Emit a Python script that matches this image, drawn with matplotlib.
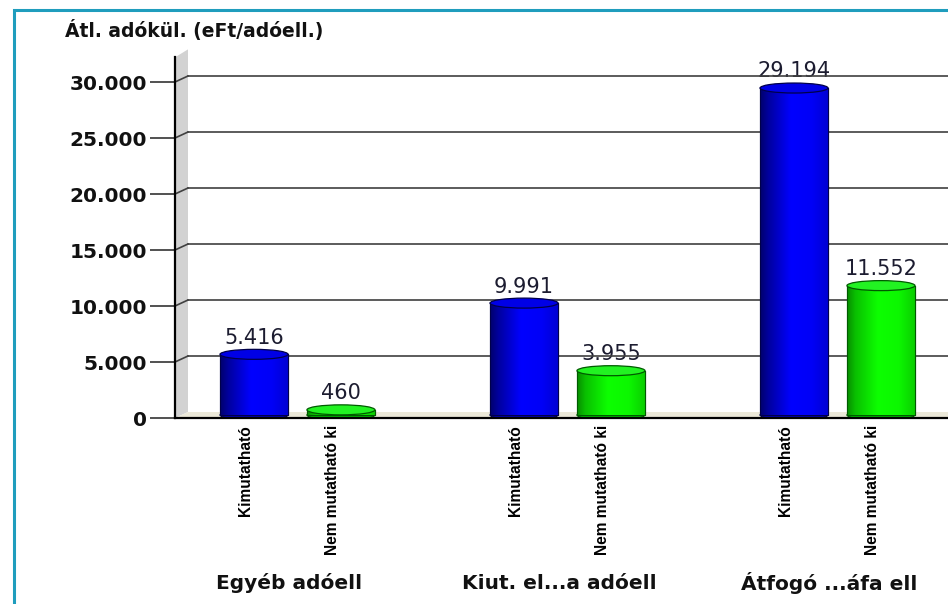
import numpy as np
import matplotlib
matplotlib.use('Agg')
import matplotlib.pyplot as plt
from matplotlib.patches import Ellipse, Polygon, Rectangle

# data
groups = ['Egyéb adóell', 'Kiut. el...a adóell', 'Átfogó ...áfa ell']
series = ['Kimutatható', 'Nem mutatható ki']
kimutathato = [5416, 9991, 29194]
nem_mutathato = [460, 3955, 11552]
yticks = [0, 5000, 10000, 15000, 20000, 25000, 30000]
title = 'Átl. adókül. (eFt/adóell.)'

W, H = 948, 604


def fmt(v):
    return f'{v:,}'.replace(',', '.')


fig = plt.figure(figsize=(W / 100, H / 100), dpi=100)
ymax = 32200
ax_h = ymax * 336 / 30000
ax = fig.add_axes([175 / W, (H - 418) / H, (W - 175) / W, ax_h / H])
ax.set_xlim(-0.4537, 2.4093)
ax.set_ylim(0, ymax)
ax.set_facecolor('none')

upp = ymax / ax_h            # data units per pixel (vertical)
xpp = (2.4093 + 0.4537) / (W - 175)   # data units per pixel (horizontal)
depth_x, depth_y = 13 * xpp, 6 * upp
x0, x1 = ax.get_xlim()

for s in ['top', 'right']:
    ax.spines[s].set_visible(False)
ax.spines['left'].set_linewidth(1.6)
ax.spines['bottom'].set_linewidth(1.6)
ax.spines['left'].set_zorder(6)
ax.spines['bottom'].set_zorder(6)

# back wall and floor
wall = Polygon([(x0, 0), (x0 + depth_x, depth_y), (x0 + depth_x, ymax + depth_y + 2 * upp),
                (x0, ymax)], closed=True, facecolor='#d2d2d2', edgecolor='none',
               clip_on=False, zorder=1)
ax.add_patch(wall)
floor = Polygon([(x0, 0), (x0 + depth_x, depth_y), (x1 + 1, depth_y), (x1 + 1, 0)],
                closed=True, facecolor='#ebe8d8', edgecolor='none', clip_on=False, zorder=1)
ax.add_patch(floor)

# gridlines on the back wall
for t in yticks[1:]:
    ax.plot([x0, x0 + depth_x], [t, t + depth_y], color='#404040', lw=1.2, zorder=2,
            clip_on=False)
    ax.plot([x0 + depth_x, x1], [t + depth_y, t + depth_y], color='#404040', lw=1.2,
            zorder=2, clip_on=False)

ax.set_yticks(yticks, [fmt(t) for t in yticks])
ax.tick_params(axis='y', length=18, width=1.2, color='#333333', pad=2, labelsize=14.5)
for lbl in ax.get_yticklabels():
    lbl.set_fontweight('bold')
    lbl.set_color('#111111')
ax.set_xticks([])

# cylinders
group_x = np.arange(len(groups))
offset, width = 0.161, 0.252
base = 3 * upp
eh = 10 * upp


def shade(levels):
    pos = np.linspace(0, 1, 256)
    return np.interp(pos, [0, 0.12, 0.45, 0.75, 1.0], levels)


blue_lv = shade([0.42, 0.62, 1.0, 0.97, 0.82])
green_lv = shade([0.55, 0.75, 1.0, 0.97, 0.8])
blue_img = np.zeros((1, 256, 3)); blue_img[0, :, 2] = blue_lv
green_img = np.zeros((1, 256, 3)); green_img[0, :, 1] = green_lv
green_img[0, :, 0] = 0.05 * green_lv

styles = [
    (kimutathato, -offset, blue_img, '#0000e6', '#0000b0', '#00004a'),
    (nem_mutathato, offset, green_img, '#22f222', '#00b800', '#005a00'),
]

for vals, off, img, top_c, bot_c, edge_c in styles:
    for gx, v in zip(group_x, vals):
        xc = gx + off
        bot = Ellipse((xc, base), width, eh, facecolor=bot_c, edgecolor=edge_c,
                      lw=0.8, zorder=3)
        ax.add_patch(bot)
        bar = ax.bar(xc, v, width, bottom=base, color=bot_c, edgecolor=edge_c,
                     lw=0.8, zorder=4)[0]
        im = ax.imshow(img, extent=[xc - width / 2, xc + width / 2, base, base + v],
                       aspect='auto', zorder=4.2, interpolation='bilinear')
        im.set_clip_path(bar)
        # thin outline on the sides
        ax.plot([xc - width / 2, xc - width / 2], [base, base + v], color=edge_c, lw=0.8,
                zorder=4.3)
        ax.plot([xc + width / 2, xc + width / 2], [base, base + v], color=edge_c, lw=0.8,
                zorder=4.3)
        top = Ellipse((xc, base + v), width, eh, facecolor=top_c, edgecolor=edge_c,
                      lw=0.9, zorder=5)
        ax.add_patch(top)
        ax.annotate(fmt(v), xy=(xc, base + v + eh / 2), xytext=(0, 4),
                    textcoords='offset points', ha='center', va='baseline',
                    fontsize=15, color='#1c1c30', zorder=1.5)

ax.set_xlim(x0, x1)
ax.set_ylim(0, ymax)

# category labels (rotated) and group labels
for gx in group_x:
    for name, off in zip(series, [-offset, offset]):
        ax.annotate(name, xy=(gx + off, 0), xycoords=('data', 'axes fraction'),
                    xytext=(-6, -5), textcoords='offset points', rotation=90,
                    ha='center', va='top', fontsize=11.2, fontweight='bold',
                    family=['Liberation Sans', 'DejaVu Sans'], color='#000000')
    ax.annotate(groups[gx], xy=(gx, 0), xycoords=('data', 'axes fraction'),
                xytext=(-6, -119), textcoords='offset points', ha='center',
                va='center', fontsize=14.5, fontweight='bold', color='#111111')

fig.text(65 / W, 1 - 30 / H, title, ha='left', va='center', fontsize=13.5,
         fontweight='bold', color='#111111')

# teal frame, right and bottom edges run off the canvas
frame = Rectangle((14 / W, -0.05), 1.2, 1 - 10 / H + 0.05, transform=fig.transFigure,
                  fill=False, edgecolor='#1f9dbd', lw=2.2, clip_on=False)
fig.patches.append(frame)

fig.savefig('out.png', dpi=100)
